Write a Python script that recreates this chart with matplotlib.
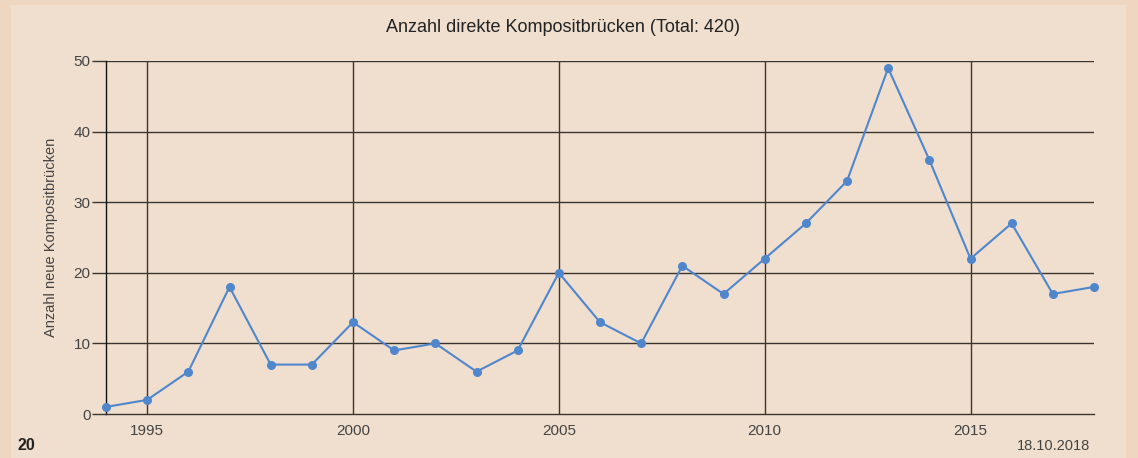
import matplotlib
matplotlib.use("Agg")
import matplotlib.pyplot as plt
from matplotlib.patches import Rectangle

years = [1994, 1995, 1996, 1997, 1998, 1999, 2000, 2001, 2002, 2003, 2004, 2005,
         2006, 2007, 2008, 2009, 2010, 2011, 2012, 2013, 2014, 2015, 2016, 2017, 2018]
counts = [1, 2, 6, 18, 7, 7, 13, 9, 10, 6, 9, 20,
          13, 10, 21, 17, 22, 27, 33, 49, 36, 22, 27, 17, 18]
x_ticks = [1995, 2000, 2005, 2010, 2015]
y_ticks = [0, 10, 20, 30, 40, 50]
title = "Anzahl direkte Kompositbrücken (Total: 420)"
ylabel = "Anzahl neue Kompositbrücken"
page_number = "20"
date_text = "18.10.2018"

plt.rcParams['font.family'] = ['Liberation Sans', 'DejaVu Sans']

W, H = 1138, 458
fig = plt.figure(figsize=(W / 100, H / 100), dpi=100)
fig.patch.set_facecolor('#EED6C0')
fig.add_artist(Rectangle((11 / W, 0), (1126 - 11) / W, (H - 5) / H,
                         transform=fig.transFigure, facecolor='#F0DFCF',
                         edgecolor='none', zorder=0))

ax = fig.add_axes([106 / W, 1 - 414 / H, (1094 - 106) / W, (414 - 61) / H])
ax.set_facecolor('none')
ax.set_xlim(1994, 2018)
ax.set_ylim(0, 50)

for y in y_ticks[1:]:
    ax.axhline(y, color='#3a3530', lw=1.0, zorder=1)
for x in x_ticks:
    ax.axvline(x, color='#3a3530', lw=1.0, zorder=1)

ax.plot(years, counts, color='#4F86CC', lw=1.5, marker='o', markersize=6.5,
        markeredgewidth=0, zorder=3, clip_on=False)

for s in ['top', 'right']:
    ax.spines[s].set_visible(False)
ax.spines['left'].set_color('#111111')
ax.spines['left'].set_linewidth(1.0)
ax.spines['bottom'].set_color('#3a3530')
ax.spines['bottom'].set_linewidth(1.0)

ax.set_xticks(x_ticks)
ax.set_yticks(y_ticks)
ax.tick_params(axis='y', length=10, width=1.0, color='#3a3530', labelsize=11,
               labelcolor='#444444', pad=1)
ax.tick_params(axis='x', length=0, labelsize=11, labelcolor='#444444', pad=7)
ax.set_ylabel(ylabel, fontsize=10.5, color='#444444', labelpad=11)

fig.text(563 / W, 1 - 28 / H, title, ha='center', va='center', fontsize=13,
         color='#222222')
fig.text(17 / W, 1 - 446 / H, page_number, ha='left', va='center', fontsize=11.5,
         fontweight='bold', color='#222222')
fig.text(1090 / W, 1 - 446 / H, date_text, ha='right', va='center', fontsize=10.5,
         color='#444444')

fig.savefig('out.png', dpi=100, facecolor=fig.get_facecolor())
